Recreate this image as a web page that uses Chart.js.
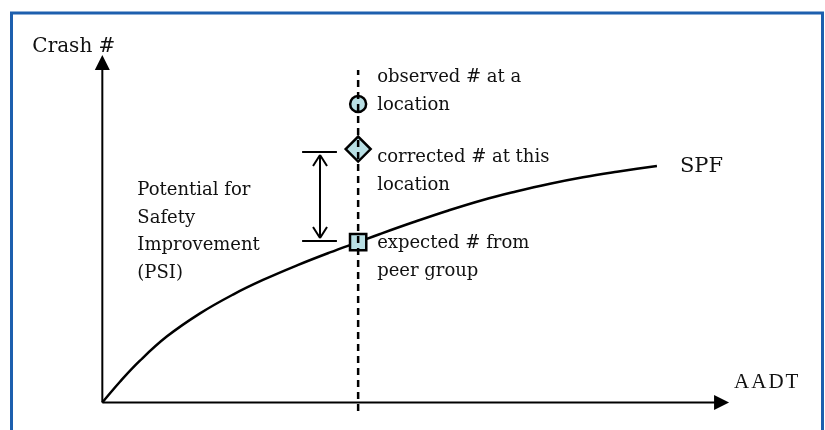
<!DOCTYPE html>
<html>
<head>
<meta charset="utf-8">
<script src="https://cdn.jsdelivr.net/npm/chart.js@4.4.1/dist/chart.umd.min.js"></script>
<style>
  html, body { margin: 0; padding: 0; background: #fff; }
</style>
</head>
<body>
<canvas id="spfChart" width="825" height="430"></canvas>
<script>
// SPF curve (AADT on x, crashes on y, arbitrary units)
const spfAadt = [0, 0.69, 1.47, 2.53, 3.82, 5.11, 6.28, 7.61, 8.9, 10, 10.86, 12.15, 13.47, 14.88, 16.17, 17.5, 18.79, 20.12, 21.68];
const spfCrashes = [0, 0.64, 1.29, 2.04, 2.75, 3.33, 3.78, 4.23, 4.63, 4.95, 5.2, 5.56, 5.91, 6.25, 6.51, 6.75, 6.95, 7.12, 7.3];

// the one location being looked at
const siteAadt = 10;
const siteCrashes = [9.21, 7.82, 4.95]; // observed, corrected, expected
const siteLabels = [
  ["observed # at a", "location"],
  ["corrected # at this", "location"],
  ["expected # from", "peer group"],
];

// axes and the dashed guide
const axisEnd = [24.5, 10.72]; // AADT, Crash #
const axisTitles = ["AADT", "Crash #"];
const guideRange = [-0.26, 10.26];

// PSI bracket
const psiAadt = [7.81, 8.51, 9.17]; // bar left, arrow, bar right
const psiCrashes = [4.98, 7.73]; // bottom, top
const psiLabel = ["Potential for", "Safety", "Improvement", "(PSI)"];

const serif = "'DejaVu Serif', serif";
const markerFill = "#b9dfe4";

function arrowHead(ctx, x, y, dx, dy, len, half, filled) {
  ctx.save();
  ctx.beginPath();
  ctx.moveTo(x, y);
  ctx.lineTo(x - dx * len - dy * half, y - dy * len + dx * half);
  if (filled) {
    ctx.lineTo(x - dx * len + dy * half, y - dy * len - dx * half);
    ctx.closePath();
    ctx.fillStyle = "#000";
    ctx.fill();
  } else {
    ctx.moveTo(x, y);
    ctx.lineTo(x - dx * len + dy * half, y - dy * len - dx * half);
    ctx.lineWidth = 2;
    ctx.strokeStyle = "#000";
    ctx.stroke();
  }
  ctx.restore();
}

const diagramPlugin = {
  id: "diagram",
  beforeDraw(chart) {
    const ctx = chart.ctx;
    ctx.save();
    ctx.fillStyle = "#fff";
    ctx.fillRect(0, 0, chart.width, chart.height);
    ctx.strokeStyle = "#1d5fae";
    ctx.lineWidth = 3;
    ctx.strokeRect(11.5, 13, 811, 440);
    ctx.restore();
  },
  afterDraw(chart) {
    const ctx = chart.ctx;
    const px = (v) => chart.scales.x.getPixelForValue(v);
    const py = (v) => chart.scales.y.getPixelForValue(v);

    // axis arrows
    arrowHead(ctx, px(axisEnd[0]), py(0), 1, 0, 15, 7.5, true);
    arrowHead(ctx, px(0), py(axisEnd[1]), 0, -1, 15, 7.5, true);
    // PSI arrows (open heads)
    arrowHead(ctx, px(psiAadt[1]), py(psiCrashes[1]) + 3, 0, -1, 11, 7, false);
    arrowHead(ctx, px(psiAadt[1]), py(psiCrashes[0]) - 3, 0, 1, 11, 7, false);

    ctx.save();
    ctx.fillStyle = "#111";
    ctx.textAlign = "left";
    ctx.textBaseline = "alphabetic";

    // marker labels
    const offsets = [-22, 13, 6];
    ctx.font = "18px " + serif;
    siteLabels.forEach((lines, i) => {
      const x0 = px(siteAadt) + 19;
      const y0 = py(siteCrashes[i]) + offsets[i];
      lines.forEach((t, j) => ctx.fillText(t, x0, y0 + j * 28));
    });

    // PSI text
    psiLabel.forEach((t, j) => ctx.fillText(t, px(0) + 35, py(psiCrashes[1]) + 43 + j * 27.7));

    // SPF label
    const last = spfAadt.length - 1;
    ctx.font = "21px " + serif;
    ctx.fillText("SPF", px(spfAadt[last]) + 23, py(spfCrashes[last]) + 6);

    // axis titles
    ctx.font = "20px " + serif;
    ctx.fillText(axisTitles[1], px(0) - 70, py(axisEnd[1]) - 3);
    ctx.font = "21px 'Liberation Serif', serif";
    ctx.letterSpacing = "2px";
    ctx.fillText(axisTitles[0], px(axisEnd[0]) + 5, py(0) - 14);
    ctx.restore();
  },
};

function line(points, extra) {
  return Object.assign(
    {
      data: points,
      showLine: true,
      borderColor: "#000",
      borderWidth: 2,
      pointRadius: 0,
      fill: false,
    },
    extra || {}
  );
}

function marker(value, style, radius) {
  return {
    data: [{ x: siteAadt, y: value }],
    pointStyle: style,
    pointRadius: radius,
    backgroundColor: markerFill,
    borderColor: "#000",
    borderWidth: 2.5,
    showLine: false,
  };
}

const ctx = document.getElementById("spfChart").getContext("2d");
new Chart(ctx, {
  type: "scatter",
  data: {
    datasets: [
      // dashed guide sits on top of the markers
      line(
        [
          { x: siteAadt, y: guideRange[0] },
          { x: siteAadt, y: guideRange[1] },
        ],
        { borderDash: [7, 5], borderWidth: 2.5 }
      ),
      marker(siteCrashes[0], "circle", 8),
      marker(siteCrashes[1], "rectRot", 12.5),
      marker(siteCrashes[2], "rect", 11.5),
      line(
        spfAadt.map((a, i) => ({ x: a, y: spfCrashes[i] })),
        { borderWidth: 2.5, tension: 0.4 }
      ),
      // axes
      line([
        { x: 0, y: 0 },
        { x: axisEnd[0] - 0.3, y: 0 },
      ]),
      line([
        { x: 0, y: 0 },
        { x: 0, y: axisEnd[1] - 0.3 },
      ]),
      // PSI bracket
      line([
        { x: psiAadt[0], y: psiCrashes[1] },
        { x: psiAadt[2], y: psiCrashes[1] },
      ]),
      line([
        { x: psiAadt[0], y: psiCrashes[0] },
        { x: psiAadt[2], y: psiCrashes[0] },
      ]),
      line([
        { x: psiAadt[1], y: psiCrashes[0] + 0.12 },
        { x: psiAadt[1], y: psiCrashes[1] - 0.12 },
      ]),
    ],
  },
  options: {
    responsive: false,
    animation: false,
    devicePixelRatio: 1,
    layout: { padding: 0, autoPadding: false },
    scales: {
      x: { type: "linear", min: -4, max: 28.25, display: false },
      y: { type: "linear", min: -0.85, max: 12.42, display: false },
    },
    plugins: {
      legend: { display: false },
      tooltip: { enabled: false },
    },
  },
  plugins: [diagramPlugin],
});
</script>
</body>
</html>
